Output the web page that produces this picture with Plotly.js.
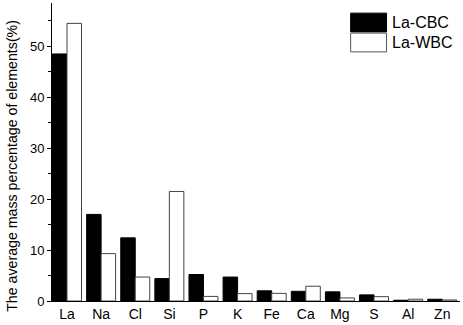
<!DOCTYPE html>
<html>
<head>
<meta charset="utf-8">
<script src="https://cdn.plot.ly/plotly-3.0.1.min.js"></script>
<style>html,body{margin:0;padding:0;background:#fff;}#chart{width:463px;height:325px;}</style>
</head>
<body>
<div id="chart"></div>
<script>
const categories = ["La","Na","Cl","Si","P","K","Fe","Ca","Mg","S","Al","Zn"];
const seriesNames = ["La-CBC","La-WBC"];
const cbcValues = [48.5, 17.0, 12.4, 4.4, 5.2, 4.7, 2.0, 1.9, 1.8, 1.2, 0.15, 0.35];
const wbcValues = [54.5, 9.3, 4.7, 21.5, 0.9, 1.45, 1.5, 2.9, 0.6, 0.85, 0.35, 0.2];
const yTicks = [0, 10, 20, 30, 40, 50];
const yTitle = "The average mass percentage of elements(%)";

const traces = [
  {type:"bar", name:seriesNames[0], x:categories, y:cbcValues,
   marker:{color:"#000000", line:{color:"#000000", width:1}}, showlegend:false},
  {type:"bar", name:seriesNames[1], x:categories, y:wbcValues,
   marker:{color:"#ffffff", line:{color:"#444444", width:1}}, showlegend:false}
];

const font = {family:"Liberation Sans, Arial, sans-serif", color:"#000"};

const layout = {
  width:463, height:325,
  margin:{l:52, r:3, t:3, b:24},
  paper_bgcolor:"#fff", plot_bgcolor:"#fff",
  barmode:"group", bargap:0.15, bargroupgap:0,
  font:font,
  xaxis:{type:"category", range:[-0.44, 11.52], showline:true, linecolor:"#000", linewidth:1,
         ticks:"", showgrid:false, zeroline:false, tickfont:{size:14, family:font.family}},
  yaxis:{range:[0, 58.5], tickvals:yTicks, showline:true, linecolor:"#000", linewidth:1,
         ticks:"outside", ticklen:4, tickwidth:1, tickcolor:"#000", showgrid:false, zeroline:false,
         tickfont:{size:13, family:font.family},
         minor:{dtick:5, ticks:"outside", ticklen:3, tickcolor:"#000", showgrid:false}},
  shapes:[
    {type:"rect", xref:"paper", yref:"paper", x0:0.732, x1:0.820, y0:0.903, y1:0.966,
     fillcolor:"#000", line:{color:"#000", width:1}},
    {type:"rect", xref:"paper", yref:"paper", x0:0.732, x1:0.820, y0:0.836, y1:0.899,
     fillcolor:"#fff", line:{color:"#555", width:1}}
  ],
  annotations:[
    {xref:"paper", yref:"paper", x:0.828, y:0.934, xanchor:"left", yanchor:"middle",
     text:seriesNames[0], showarrow:false, font:{size:16, family:font.family}},
    {xref:"paper", yref:"paper", x:0.828, y:0.866, xanchor:"left", yanchor:"middle",
     text:seriesNames[1], showarrow:false, font:{size:16, family:font.family}},
    {xref:"paper", yref:"paper", x:-0.097, y:0.455, xanchor:"center", yanchor:"middle",
     textangle:-90, text:yTitle, showarrow:false, font:{size:14.2, family:font.family}}
  ]
};

Plotly.newPlot("chart", traces, layout, {displayModeBar:false, staticPlot:true});
</script>
</body>
</html>
